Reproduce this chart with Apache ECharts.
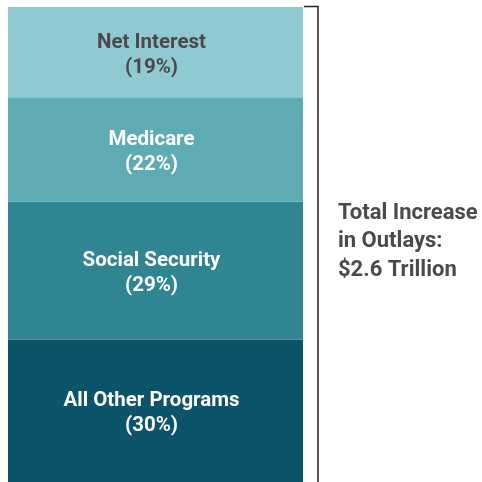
<!DOCTYPE html>
<html>
<head>
<meta charset="utf-8">
<script src="https://cdn.jsdelivr.net/npm/echarts@6/dist/echarts.min.js"></script>
<style>
html,body{margin:0;padding:0;background:#fff;}
#chart{width:482px;height:482px;}
</style>
</head>
<body>
<div id="chart"></div>
<script>
// Data (bottom to top of the stack)
const categories = ['Total'];
const seriesNames = ['All Other Programs', 'Social Security', 'Medicare', 'Net Interest'];
const seriesValues = [30, 29, 22, 19];
const seriesColors = ['#0b5469', '#2f8591', '#5eabb3', '#8fcad2'];
const labelColors = ['#ffffff', '#ffffff', '#ffffff', '#4a4a4a'];
const totalLabel = ['Total Increase', 'in Outlays:', '$2.6 Trillion'];

const chart = echarts.init(document.getElementById('chart'));
const series = seriesNames.map((name, i) => ({
  name: name,
  type: 'bar',
  stack: 'total',
  barWidth: '100%',
  data: [seriesValues[i]],
  itemStyle: { color: seriesColors[i] },
  label: {
    show: true,
    position: 'inside',
    offset: [-4, 3],
    formatter: '{a}\n({c}%)',
    color: labelColors[i],
    fontFamily: 'Roboto',
    fontWeight: 'bold',
    fontSize: 20.5,
    lineHeight: 25
  },
  emphasis: { disabled: true }
}));

chart.setOption({
  animation: false,
  grid: { left: 8, top: 7, width: 295, height: 480 },
  xAxis: { type: 'category', data: categories, show: false },
  yAxis: { type: 'value', min: 0, max: 100, show: false },
  series: series,
  graphic: [
    {
      type: 'polyline',
      shape: { points: [[304, 6.5], [318, 6.5], [318, 482]] },
      style: { stroke: '#222', lineWidth: 1.5, fill: null }
    },
    {
      type: 'text',
      left: 338,
      top: 199,
      style: {
        text: totalLabel.join('\n'),
        fill: '#4a4a4a',
        font: 'bold 22px Roboto',
        lineHeight: 28.5
      }
    }
  ]
});
</script>
</body>
</html>
